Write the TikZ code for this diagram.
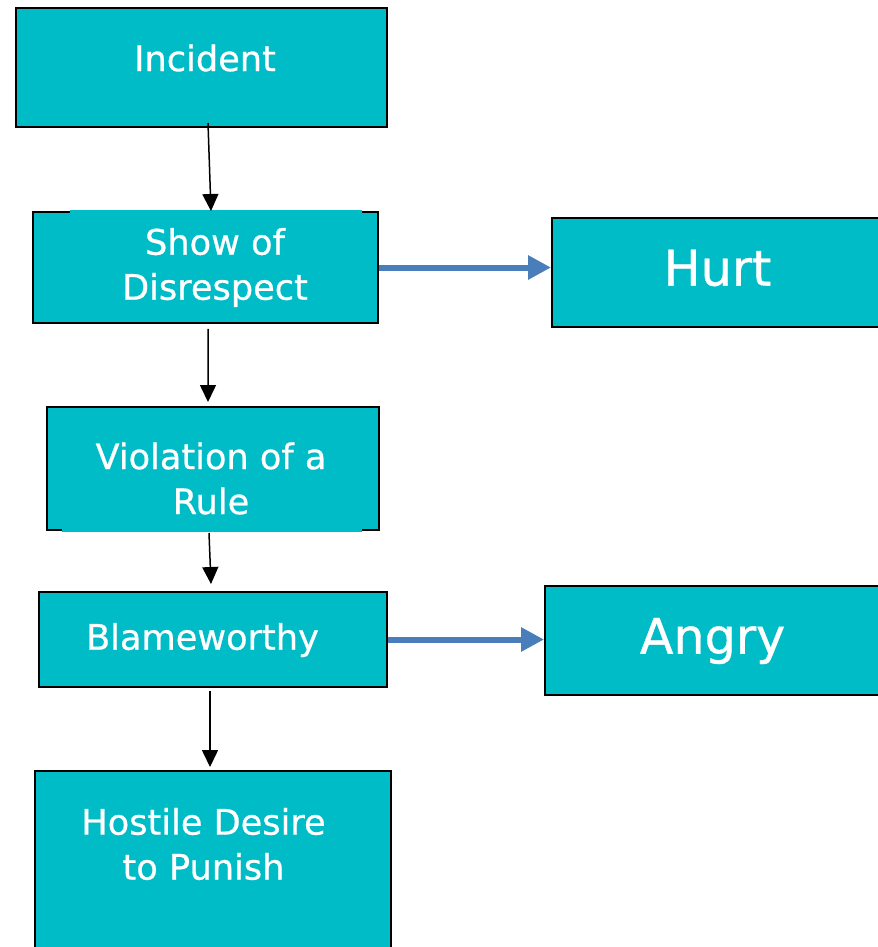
\documentclass[tikz,border=0pt]{standalone}
\usepackage{fontspec}
\setmainfont{DejaVu Sans}
\newfontfamily\boxfont{DejaVu Sans}[FakeBold=0.7]
\usetikzlibrary{arrows.meta,positioning}
\definecolor{boxcyan}{HTML}{00BCC7}
\definecolor{arrowblue}{HTML}{4A7EBB}

\begin{document}
\begin{tikzpicture}[x=0.02cm, y=-0.02cm,
	box/.style={rectangle, draw=black, line width=0.4mm, fill=boxcyan, inner sep=0},
	words/.style={text=white, font=\boxfont\fontsize{20}{25.6}\selectfont, align=center},
	big/.style={text=white, font=\boxfont\fontsize{28}{34}\selectfont},
	flow/.style={-{Triangle[length=3.4mm, width=3.2mm]}, line width=0.3mm},
	feel/.style={-{Triangle[length=4.6mm, width=4.6mm]}, line width=1.2mm, draw=arrowblue}]
		\useasboundingbox (0,0) rectangle (878,947);
		\clip (0,0) rectangle (878,947);

		% boxes
		\node[box, minimum width=74.2mm, minimum height=23.8mm] (incident) at (201.5,67.5) {};
		\node[box, minimum width=69mm, minimum height=22.2mm] (disrespect) at (205.5,267.5) {};
		\node[box, minimum width=69.6mm, minimum height=21.8mm] (hurt) at (726,272.5) {};
		\node[box, minimum width=66.4mm, minimum height=24.6mm] (violation) at (213,468.5) {};
		\node[box, minimum width=69.6mm, minimum height=19mm] (blame) at (213,639.5) {};
		\node[box, minimum width=71mm, minimum height=21.8mm] (angry) at (722.5,640.5) {};
		\node[box, minimum width=71.2mm, minimum height=37.8mm] (hostile) at (213,865.5) {};

		% missing bits of the borders
		\fill[boxcyan] (70,210) rectangle (362,214.5);
		\fill[boxcyan] (62,528) rectangle (362,532);

		% texts
		\node[words] (incident-text) at (205,58) {Incident};
		\node[words] (disrespect-text) at (215,267.5) {Show of\\Disrespect};
		\node[big] (hurt-text) at (717.5,268) {Hurt};
		\node[words] (violation-text) at (211,478.5) {Violation of a\\Rule};
		\node[words] (blame-text) at (202.5,640) {Blameworthy};
		\node[big] (angry-text) at (712.5,641) {Angry};
		\node[words] (hostile-text) at (203.5,844) {Hostile Desire\\to Punish};

		% arrows
		\draw[flow] ([xshift=1.3mm, yshift=1mm]incident.south) -- ([xshift=1.1mm]disrespect.north);
		\draw[flow] ([xshift=0.5mm, yshift=-1mm]disrespect.south) -- ([xshift=-1mm, yshift=0.8mm]violation.north);
		\draw[flow] ([xshift=-0.8mm, yshift=-0.4mm]violation.south) -- ([xshift=-0.4mm, yshift=1.4mm]blame.north);
		\draw[flow] ([xshift=-0.6mm, yshift=-0.6mm]blame.south) -- ([xshift=-0.6mm, yshift=0.6mm]hostile.north);

		\draw[feel] (disrespect.east) -- (disrespect.east -| hurt.west);
		\draw[feel] (blame.east) -- (blame.east -| angry.west);
	\end{tikzpicture}
\end{document}
